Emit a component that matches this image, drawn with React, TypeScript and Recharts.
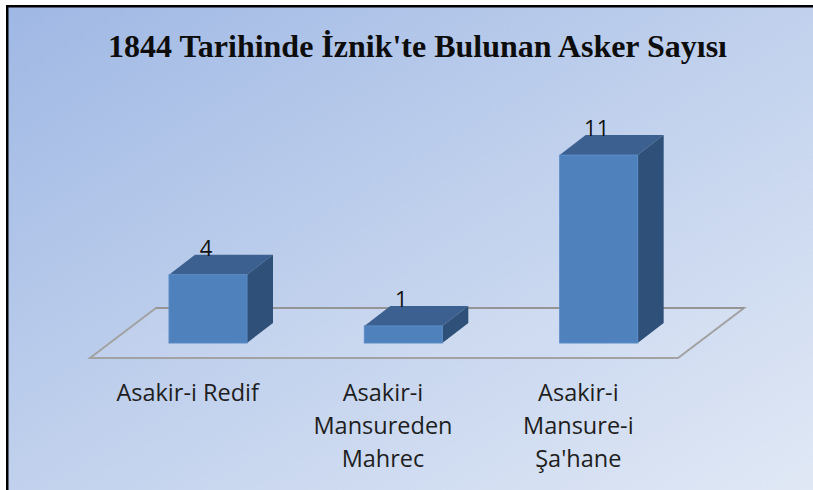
import { BarChart, Bar, XAxis, YAxis, ReferenceArea, LabelList } from "recharts";

const categories = ["Asakir-i Redif", "Asakir-i Mansureden Mahrec", "Asakir-i Mansure-i Şa'hane"];
const tickLines = [["Asakir-i Redif"], ["Asakir-i", "Mansureden", "Mahrec"], ["Asakir-i", "Mansure-i", "Şa'hane"]];
const soldiers = [4, 1, 11];

const data = categories.map((name, i) => ({ name, value: soldiers[i] }));

// depth of the 3d boxes
const DX = 26;
const DY = 20;

function Box3D(props: any) {
  const { x, y, width, height } = props;
  if (!height || height <= 0) return null;
  const r = x + width;
  const b = y + height;
  return (
    <g>
      <polygon points={`${x},${y} ${x + DX},${y - DY} ${r + DX},${y - DY} ${r},${y}`} fill="#3c6191" />
      <polygon points={`${r},${y} ${r + DX},${y - DY} ${r + DX},${b - DY} ${r},${b}`} fill="#2f5078" />
      <rect x={x} y={y} width={width} height={height} fill="#4f81bd" stroke="#5a8bc6" strokeWidth={1} />
    </g>
  );
}

function Floor(props: any) {
  const { x, y, width, height } = props;
  const b = y + height;
  const r = x + width;
  return (
    <g>
      <polygon
        points={`${x - 20},${b + 15} ${x + 46},${b - 35} ${r + 48},${b - 35} ${r - 18},${b + 15}`}
        fill="rgba(255,255,255,0.08)"
        stroke="#a2a2a2"
        strokeWidth={2}
      />
      <line x1={x + 46} y1={b - 35} x2={r + 48} y2={b - 35} stroke="#959595" strokeWidth={2} />
    </g>
  );
}

function CategoryTick(props: any) {
  const { x, y, payload } = props;
  const lines = tickLines[payload.index] || [payload.value];
  return (
    <text x={x - 20} y={y + 58} textAnchor="middle" fontFamily="Open Sans" fontSize={23.5} fill="#1e1e1e">
      {lines.map((t: string, i: number) => (
        <tspan key={i} x={x - 20} dy={i === 0 ? 0 : 33}>
          {t}
        </tspan>
      ))}
    </text>
  );
}

const renderValue = (p: any) => (
  <text x={p.x + p.width / 2 - 2} y={p.y - DY + 1} textAnchor="middle" fontFamily="Open Sans" fontSize={22} fill="#111">
    {p.value}
  </text>
);

export default function App() {
  return (
    <div style={{ position: "absolute", left: 0, top: 0, width: 813, height: 490, background: "#fff" }}>
      <svg width={813} height={490} style={{ position: "absolute", left: 0, top: 0 }}>
        <defs>
          <linearGradient id="bg" x1="0" y1="0" x2="1" y2="1">
            <stop offset="0%" stopColor="#9fb8e4" />
            <stop offset="50%" stopColor="#c1d1ed" />
            <stop offset="100%" stopColor="#e0e8f5" />
          </linearGradient>
        </defs>
        <rect x={6} y={5} width={807} height={485} fill="#000" />
        <rect x={8.5} y={7.5} width={804.5} height={482.5} fill="url(#bg)" />
        <text
          x={108}
          y={57}
          textLength={619}
          lengthAdjust="spacingAndGlyphs"
          fontFamily="Liberation Serif"
          fontWeight="bold"
          fontSize={32}
          fill="#0d0d0d"
        >
          1844 Tarihinde İznik'te Bulunan Asker Sayısı
        </text>
      </svg>
      <div style={{ position: "absolute", left: 0, top: 0 }}>
        <BarChart width={813} height={490} data={data} margin={{ top: 138, right: 117, bottom: 117, left: 110 }} barSize={78}>
          <YAxis hide domain={[0, 12]} />
          <XAxis
            dataKey="name"
            interval={0}
            axisLine={false}
            tickLine={false}
            tickSize={0}
            tickMargin={0}
            height={30}
            tick={<CategoryTick />}
          />
          <ReferenceArea y1={0} y2={12} shape={<Floor />} fill="none" stroke="none" ifOverflow="visible" />
          <Bar dataKey="value" shape={<Box3D />} isAnimationActive={false}>
            <LabelList dataKey="value" content={renderValue} />
          </Bar>
        </BarChart>
      </div>
    </div>
  );
}
